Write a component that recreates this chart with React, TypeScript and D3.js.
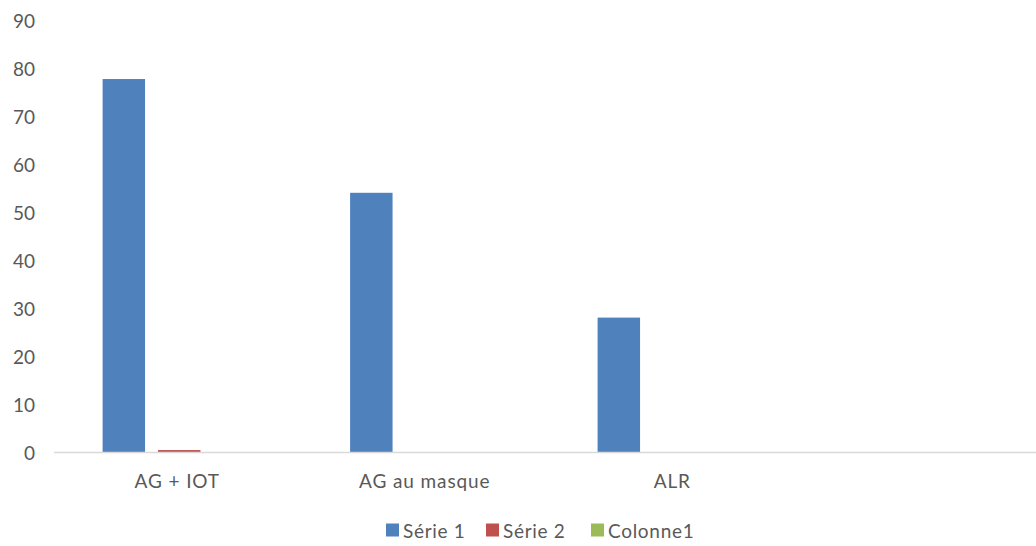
import React from "react";
import * as d3 from "d3";

const categories = ["AG + IOT", "AG au masque", "ALR", ""];
const seriesNames = ["Série 1", "Série 2", "Colonne1"];
const serie1 = [77.7, 54, 28, null];
const serie2 = [0.4, 0, 0, null];
const colonne1 = [0, 0, 0, null];
const yTicks = [0, 10, 20, 30, 40, 50, 60, 70, 80, 90];
const colors = ["#4F81BD", "#C0504D", "#9BBB59"];

const W = 1036;
const H = 546;
const FONT = "Lato, 'Open Sans', sans-serif";

export default function App() {
  const values = [serie1, serie2, colonne1];
  const x0 = d3.scaleBand<string>().domain(categories.map((c, i) => String(i))).range([55.5, 1045.5]);
  const x1 = d3
    .scaleBand<string>()
    .domain(seriesNames)
    .range([0, x0.bandwidth()])
    .paddingInner(0.234)
    .paddingOuter(0.85);
  const y = d3.scaleLinear().domain([0, 90]).range([452, 20]);

  const legendX = [386, 486, 591];

  return (
    <div style={{ position: "absolute", left: 0, top: 0 }}>
      <svg width={W} height={H} style={{ display: "block", background: "#fff" }}>
        {yTicks.map((t) => (
          <text
            key={t}
            x={35}
            y={y(t)}
            textAnchor="end"
            dominantBaseline="central"
            fontFamily={FONT}
            fontSize={19}
            fill="#595959"
          >
            {t}
          </text>
        ))}
        {values.map((vals, si) =>
          vals.map((v, ci) =>
            v == null || v === 0 ? null : (
              <rect
                key={`${si}-${ci}`}
                x={(x0(String(ci)) ?? 0) + (x1(seriesNames[si]) ?? 0)}
                y={y(v)}
                width={x1.bandwidth()}
                height={y(0) - y(v)}
                fill={colors[si]}
              />
            )
          )
        )}
        <line x1={54} x2={W} y1={y(0) + 0.5} y2={y(0) + 0.5} stroke="#D9D9D9" strokeWidth={1.5} />
        {categories.map((c, i) => (
          <text
            key={i}
            x={(x0(String(i)) ?? 0) + x0.bandwidth() / 2 - 2}
            y={480}
            textAnchor="middle"
            dominantBaseline="central"
            fontFamily={FONT}
            fontSize={19}
            letterSpacing={0.9}
            fill="#595959"
          >
            {c}
          </text>
        ))}
        {seriesNames.map((s, i) => (
          <g key={s}>
            <rect x={legendX[i]} y={523.5} width={13} height={13} fill={colors[i]} />
            <text
              x={legendX[i] + 17}
              y={530}
              dominantBaseline="central"
              fontFamily={FONT}
              fontSize={19}
              letterSpacing={0.7}
              fill="#595959"
            >
              {s}
            </text>
          </g>
        ))}
      </svg>
    </div>
  );
}
